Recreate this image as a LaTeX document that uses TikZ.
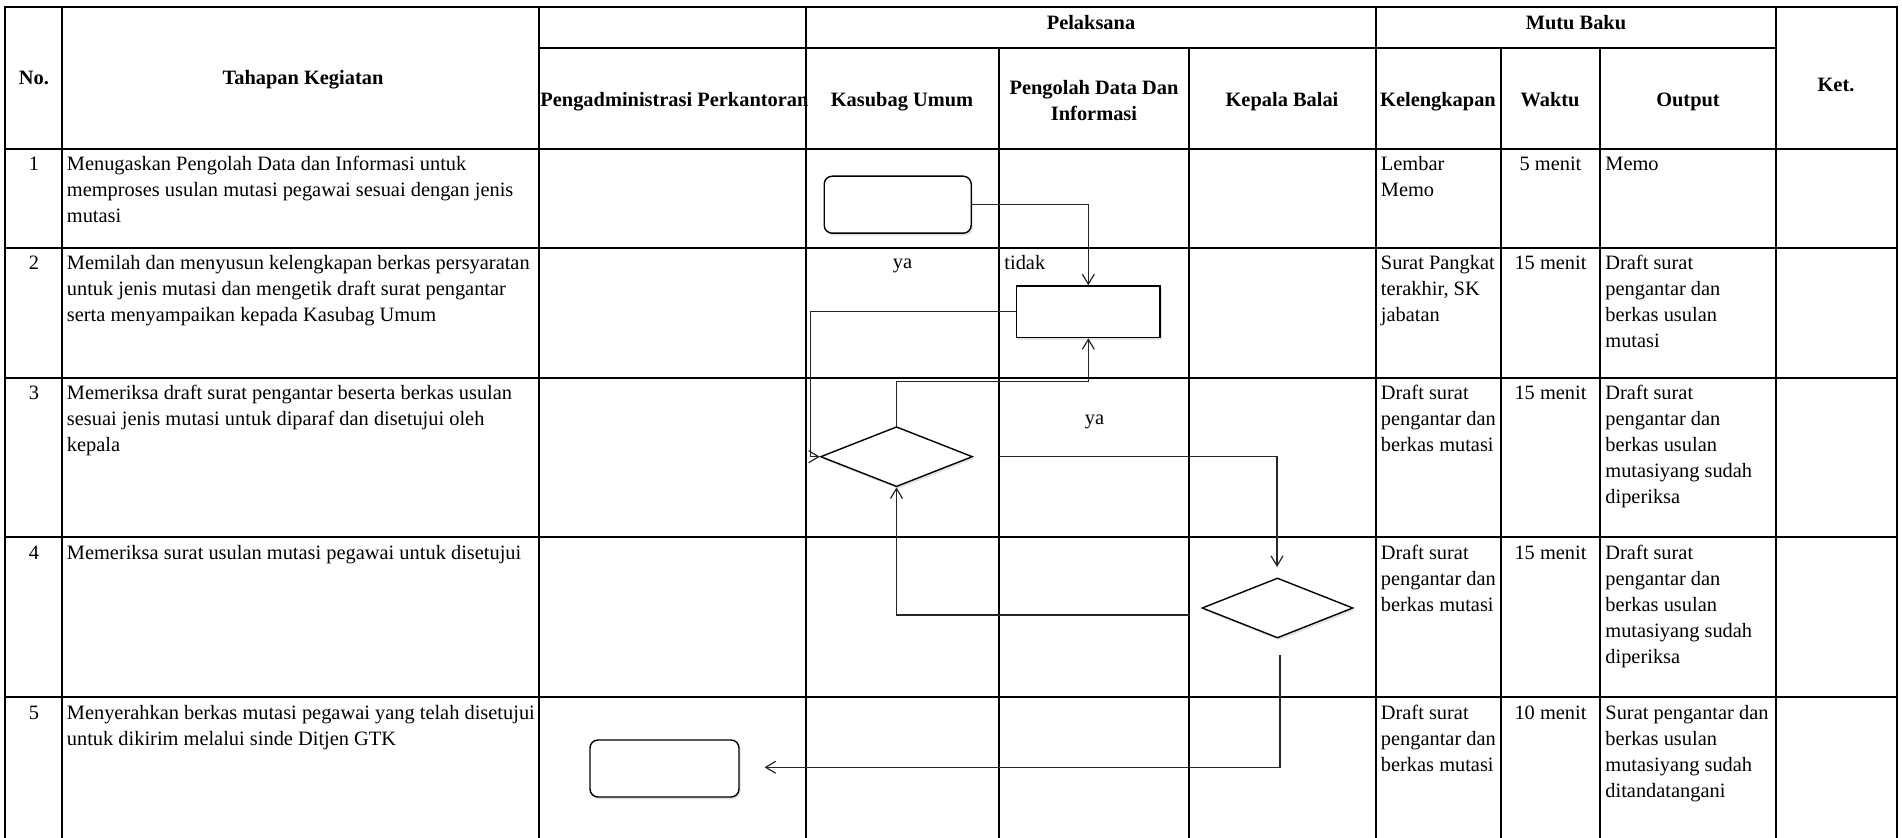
\documentclass[tikz,border=0pt]{standalone}
\usepackage{fontspec}
\setmainfont{Liberation Serif}
\usetikzlibrary{shapes.geometric,arrows.meta,shadows}
\begin{document}
\begin{tikzpicture}[x=0.5pt,y=-0.5pt,
  tbl/.style={line width=1.2pt, black, line cap=rect},
  flow/.style={line width=0.6pt, black!85},
  arr/.style={flow, -{Straight Barb[length=5pt,width=6pt]}},
  hd/.style={font=\fontsize{10.2}{13}\selectfont\bfseries, inner sep=0pt},
  cellt/.style={font=\fontsize{10.2}{13}\selectfont, inner sep=0pt, anchor=north west, align=left},
  celc/.style={font=\fontsize{10.2}{13}\selectfont, inner sep=0pt, anchor=north, align=center},
  shdw/.style={drop shadow={shadow xshift=0.8pt, shadow yshift=-1.2pt, opacity=0.22}},
  startbox/.style={draw=black, line width=0.7pt, fill=white, rounded corners=4pt, minimum width=73.5pt, minimum height=28.5pt, inner sep=0pt, shdw},
  procbox/.style={draw=black, line width=0.7pt, fill=white, minimum width=71.75pt, minimum height=25.75pt, inner sep=0pt, shdw},
  decbox/.style={shape=diamond, draw=black, line width=0.7pt, fill=white, minimum height=30pt, inner sep=0pt, shdw}
]
\useasboundingbox (0,0) rectangle (1902,838);

% ---------------- table grid ----------------
\draw[tbl] (5,7) -- (1897,7);
\draw[tbl] (539,48) -- (1776,48);
\draw[tbl] (5,149) -- (1897,149);
\draw[tbl] (5,248) -- (1897,248);
\draw[tbl] (5,378) -- (1897,378);
\draw[tbl] (5,537) -- (1897,537);
\draw[tbl] (5,697) -- (1897,697);
\foreach \xx in {5,62,539,806,1376,1776,1897} {\draw[tbl] (\xx,7) -- (\xx,838);}
\foreach \xx in {999,1189,1501,1600} {\draw[tbl] (\xx,48) -- (\xx,838);}

% ---------------- header ----------------
\node[hd, anchor=base] (hNo) at (34,85) {No.};
\node[hd, anchor=base] (hTah) at (303,85) {Tahapan Kegiatan};
\node[hd, anchor=base] (hPel) at (1091,30) {Pelaksana};
\node[hd, anchor=base] (hMut) at (1576,30) {Mutu Baku};
\node[hd, anchor=base] (hKet) at (1836,92) {Ket.};
\node[hd, anchor=base west] (hPeng) at (540,106.5) {Pengadministrasi Perkantoran};
\node[hd, anchor=base] (hKas) at (902,106.5) {Kasubag Umum};
\node[hd, anchor=north, align=center] (hPDI) at (1094,76.1) {\strut Pengolah Data Dan\\Informasi};
\node[hd, anchor=base] (hKep) at (1282,106.5) {Kepala Balai};
\node[hd, anchor=base] (hKel) at (1438,106.5) {Kelengkapan};
\node[hd, anchor=base] (hWak) at (1550,106.5) {Waktu};
\node[hd, anchor=base] (hOut) at (1688,106.5) {Output};

% ---------------- row 1 ----------------
\node[celc] (n1) at (34,151.5) {\strut 1};
\node[cellt] (t1) at (66.5,151.5) {\strut Menugaskan Pengolah Data dan Informasi untuk\\memproses usulan mutasi pegawai sesuai dengan jenis\\mutasi};
\node[cellt] (k1t) at (1380.5,151.5) {\strut Lembar\\Memo};
\node[celc] (w1) at (1550.5,151.5) {\strut 5 menit};
\node[cellt] (o1) at (1605,151.5) {\strut Memo};

% ---------------- row 2 ----------------
\node[celc] (n2) at (34,251) {\strut 2};
\node[cellt] (t2) at (66.5,251) {\strut Memilah dan menyusun kelengkapan berkas persyaratan\\untuk jenis mutasi dan mengetik draft surat pengantar\\serta menyampaikan kepada Kasubag Umum};
\node[cellt] (k2t) at (1380.5,251) {\strut Surat Pangkat\\terakhir, SK\\jabatan};
\node[celc] (w2) at (1550.5,251) {\strut 15 menit};
\node[cellt] (o2) at (1605,251) {\strut Draft surat\\pengantar dan\\berkas usulan\\mutasi};

% ---------------- row 3 ----------------
\node[celc] (n3) at (34,380.5) {\strut 3};
\node[cellt] (t3) at (66.5,380.5) {\strut Memeriksa draft surat pengantar beserta berkas usulan\\sesuai jenis mutasi untuk diparaf dan disetujui oleh\\kepala};
\node[cellt] (k3t) at (1380.5,380.5) {\strut Draft surat\\pengantar dan\\berkas mutasi};
\node[celc] (w3) at (1550.5,380.5) {\strut 15 menit};
\node[cellt] (o3) at (1605,380.5) {\strut Draft surat\\pengantar dan\\berkas usulan\\mutasiyang sudah\\diperiksa};

% ---------------- row 4 ----------------
\node[celc] (n4) at (34,540.5) {\strut 4};
\node[cellt] (t4) at (66.5,540.5) {\strut Memeriksa surat usulan mutasi pegawai untuk disetujui};
\node[cellt] (k4t) at (1380.5,540.5) {\strut Draft surat\\pengantar dan\\berkas mutasi};
\node[celc] (w4) at (1550.5,540.5) {\strut 15 menit};
\node[cellt] (o4) at (1605,540.5) {\strut Draft surat\\pengantar dan\\berkas usulan\\mutasiyang sudah\\diperiksa};

% ---------------- row 5 ----------------
\node[celc] (n5) at (34,700.5) {\strut 5};
\node[cellt] (t5) at (66.5,700.5) {\strut Menyerahkan berkas mutasi pegawai yang telah disetujui\\untuk dikirim melalui sinde Ditjen GTK};
\node[cellt] (k5t) at (1380.5,700.5) {\strut Draft surat\\pengantar dan\\berkas mutasi};
\node[celc] (w5) at (1550.5,700.5) {\strut 10 menit};
\node[cellt] (o5) at (1605,700.5) {\strut Surat pengantar dan\\berkas usulan\\mutasiyang sudah\\ditandatangani};

% ---------------- flowchart shapes ----------------
\node[startbox] (s1) at (897.7,204.7) {};
\node[procbox] (p2) at (1088.3,311.8) {};
\node[decbox, minimum width=76pt] (d1) at (896.5,456.7) {};
\node[decbox, minimum width=75.5pt] (d2) at (1277.5,608) {};
\node[startbox, minimum width=74.5pt] (e3) at (664.5,768.5) {};

% ---------------- labels ----------------
\node[font=\fontsize{10.2}{13}\selectfont, inner sep=0pt, anchor=base] (lya1) at (902.5,269) {ya};
\node[font=\fontsize{10.2}{13}\selectfont, inner sep=0pt, anchor=base west] (ltidak) at (1004,270) {tidak};
\node[font=\fontsize{10.2}{13}\selectfont, inner sep=0pt, anchor=base] (lya2) at (1094.5,425) {ya};

% ---------------- connectors ----------------
\draw[arr] (s1.east) -| (p2.north);
\coordinate (k1) at (810.7,456.7);
\draw[arr] (p2.west) -| (k1) -- (d1.west);
\coordinate (k2) at (1088.3,381.7);
\draw[arr] (d1.north) |- (k2) -- (p2.south);
\coordinate (k3) at (999,456.7);
\coordinate (k4) at (1277,567);
\draw[arr] (k3) -| (k4);
\coordinate (k5) at (1189.5,615);
\draw[arr] (k5) -| (d1.south);
\coordinate (k6) at (1280,655);
\coordinate (k7) at (764.5,767.3);
\draw[arr] (k6) |- (k7);
\end{tikzpicture}
\end{document}
